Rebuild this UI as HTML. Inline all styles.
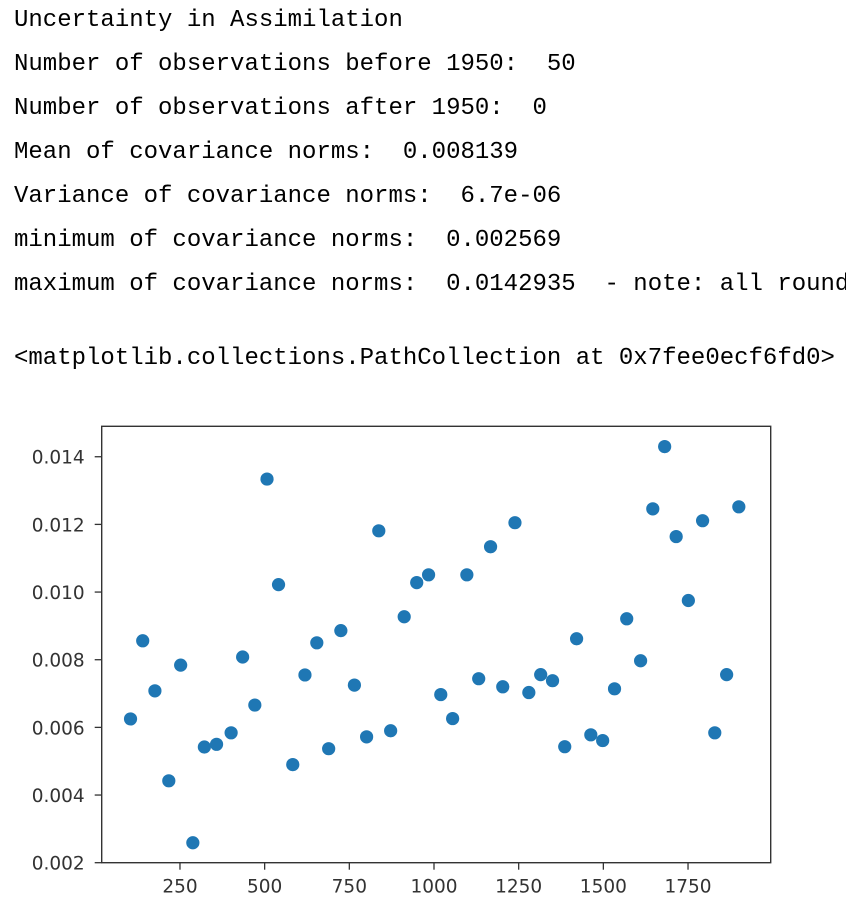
<!DOCTYPE html>
<html><head><meta charset="utf-8"><style>
body{margin:0;background:#fff;width:846px;height:924px;overflow:hidden;position:relative}
.out{position:absolute;left:14px;font-family:"Liberation Mono",monospace;font-size:24px;color:#000;white-space:pre;line-height:28px}
svg{position:absolute;left:0;top:0}
</style></head><body>
<div class="out" style="top:7px">Uncertainty in Assimilation</div>
<div class="out" style="top:51px">Number of observations before 1950:  50</div>
<div class="out" style="top:95px">Number of observations after 1950:  0</div>
<div class="out" style="top:139px">Mean of covariance norms:  0.008139</div>
<div class="out" style="top:183px">Variance of covariance norms:  6.7e-06</div>
<div class="out" style="top:227px">minimum of covariance norms:  0.002569</div>
<div class="out" style="top:271px">maximum of covariance norms:  0.0142935  - note: all rounded</div>
<div class="out" style="top:345px">&lt;matplotlib.collections.PathCollection at 0x7fee0ecf6fd0&gt;</div>
<svg id="chart" width="846" height="924"></svg>
<script>
const xValues=[104,140,176,217,252,288,322,358,401,435,471,507,541,583,619,654,689,725,765,801,837,872,912,949,984,1020,1055,1097,1132,1167,1203,1239,1280,1315,1350,1386,1421,1463,1498,1533,1569,1610,1646,1681,1715,1751,1793,1829,1864,1900];
const yValues=[0.00625,0.00856,0.00708,0.00442,0.00784,0.00259,0.00542,0.00550,0.00584,0.00808,0.00666,0.01334,0.01022,0.00490,0.00755,0.00850,0.00537,0.00886,0.00725,0.00572,0.01181,0.00590,0.00927,0.01028,0.01051,0.00697,0.00626,0.01051,0.00744,0.01134,0.00720,0.01205,0.00703,0.00756,0.00738,0.00543,0.00862,0.00578,0.00561,0.00714,0.00921,0.00797,0.01246,0.01430,0.01164,0.00975,0.01211,0.00584,0.00756,0.01252];
const xTicks=[250,500,750,1000,1250,1500,1750];
const yTicks=[0.002,0.004,0.006,0.008,0.010,0.012,0.014];
const yTickLabels=["0.002","0.004","0.006","0.008","0.010","0.012","0.014"];
const NS="http://www.w3.org/2000/svg";
const svg=document.getElementById('chart');
const L=101.7,R=770.7,T=426.3,B=862.7;
function sx(v){return 95.3+v*0.3387;}
function sy(v){return B-(v-0.002)/0.001*33.83;}
function mk(tag,attrs){const e=document.createElementNS(NS,tag);for(const k in attrs)e.setAttribute(k,attrs[k]);svg.appendChild(e);return e;}
const frame=mk('rect',{x:L,y:T,width:R-L,height:B-T,fill:'none',stroke:'#333',"stroke-width":1.4});


xTicks.forEach(t=>{
  const x=sx(t);
  const tk=mk('line',{x1:x,x2:x,y1:B,y2:B+7,stroke:'#333',"stroke-width":1.3});
  
  
  const lb=mk('text',{x:x,y:B+30,"text-anchor":"middle","font-family":"DejaVu Sans, sans-serif","font-size":"18.5",fill:"#333"});
  lb.textContent=String(t);
  
  
});
yTicks.forEach((t,i)=>{
  const y=sy(t);
  const tk=mk('line',{x1:L-7,x2:L,y1:y,y2:y,stroke:'#333',"stroke-width":1.3});
  
  
  const lb=mk('text',{x:L-17,y:y+7,"text-anchor":"end","font-family":"DejaVu Sans, sans-serif","font-size":"18.5",fill:"#333"});
  lb.textContent=yTickLabels[i];
  
  
});
xValues.forEach((xv,i)=>{
  const c=mk('circle',{cx:sx(xv),cy:sy(yValues[i]),r:6.6,fill:'#1f77b4'});
  
  
});
</script>
</body></html>
